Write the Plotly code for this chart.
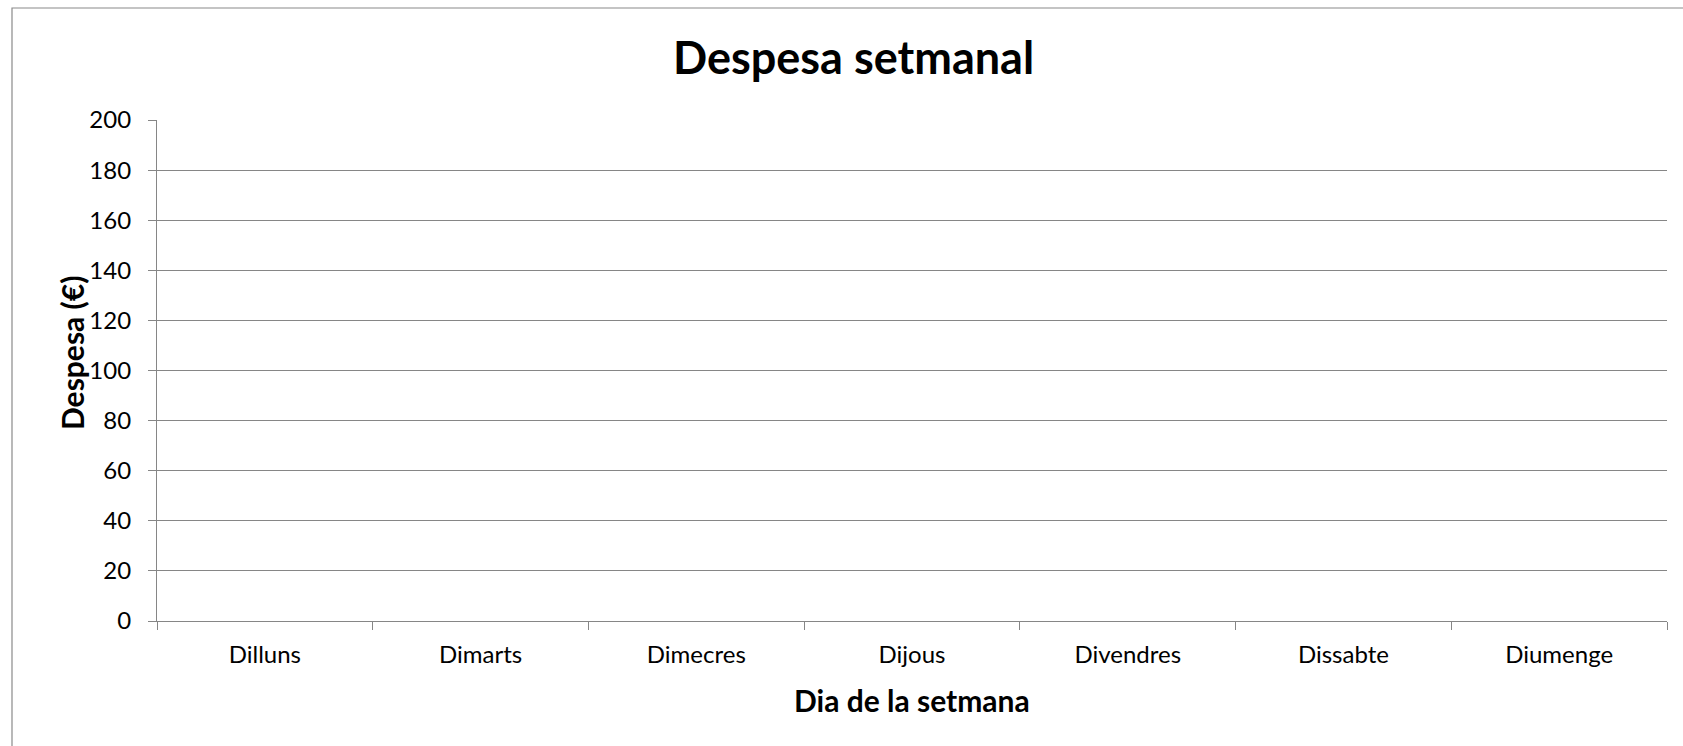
import plotly.graph_objects as go

# ---- data ----
categories = ["Dilluns", "Dimarts", "Dimecres", "Dijous", "Divendres", "Dissabte", "Diumenge"]
despesa = [None, None, None, None, None, None, None]
y_ticks = [0, 20, 40, 60, 80, 100, 120, 140, 160, 180, 200]

W, H = 1683, 746
L, R, T, B = 157, 1667, 120, 621  # plot area in pixels
pw, ph = R - L, B - T

def px(x):
    return (x - L) / pw

def py(y):
    return (B - y) / ph

FONT = "Lato"
GRID = "#868686"

fig = go.Figure()
fig.add_trace(go.Bar(x=categories, y=despesa, marker_color="#4f81bd", showlegend=False))

fig.update_layout(
    width=W, height=H,
    margin=dict(l=L, r=W - R, t=T, b=H - B, pad=0),
    paper_bgcolor="white", plot_bgcolor="white",
    font=dict(family=FONT, color="black", size=24),
    xaxis=dict(
        type="category", categoryorder="array", categoryarray=categories,
        range=[-0.5, len(categories) - 0.5],
        tickson="boundaries", ticks="outside", ticklen=8, tickcolor=GRID, tickwidth=1.2,
        showline=True, linecolor=GRID, linewidth=1.2,
        showgrid=False, zeroline=False,
        tickfont=dict(family=FONT, size=24, color="black"),
        ticklabelstandoff=12,
    ),
    yaxis=dict(
        range=[0, 200], tickvals=y_ticks, ticktext=[str(v) for v in y_ticks],
        ticks="outside", ticklen=8, tickcolor=GRID, tickwidth=1.2,
        showline=True, linecolor=GRID, linewidth=1.2,
        showgrid=True, gridcolor=GRID, gridwidth=1.2, zeroline=False,
        tickfont=dict(family=FONT, size=24, color="black"),
        ticklabelstandoff=12,
    ),
    shapes=[
        dict(type="rect", xref="paper", yref="paper",
             x0=px(12), x1=px(1720), y0=py(790), y1=py(8),
             line=dict(color="#8a8a8a", width=1.2), fillcolor="rgba(0,0,0,0)", layer="below"),
    ],
    annotations=[
        dict(text="<b>Despesa setmanal</b>", xref="paper", yref="paper",
             x=px(853), y=py(57), xanchor="center", yanchor="middle",
             showarrow=False, font=dict(family=FONT, size=45, color="black")),
        dict(text="<b>Dia de la setmana</b>", xref="paper", yref="paper",
             x=px(912), y=py(700), xanchor="center", yanchor="middle",
             showarrow=False, font=dict(family=FONT, size=30, color="black")),
        dict(text="<b>Despesa (€)</b>", xref="paper", yref="paper",
             x=px(72), y=py(353), xanchor="center", yanchor="middle", textangle=-90,
             showarrow=False, font=dict(family=FONT, size=30, color="black")),
    ],
)

fig.write_html("out.html", config={"displayModeBar": False},
               post_script="document.body.style.margin='0';")
